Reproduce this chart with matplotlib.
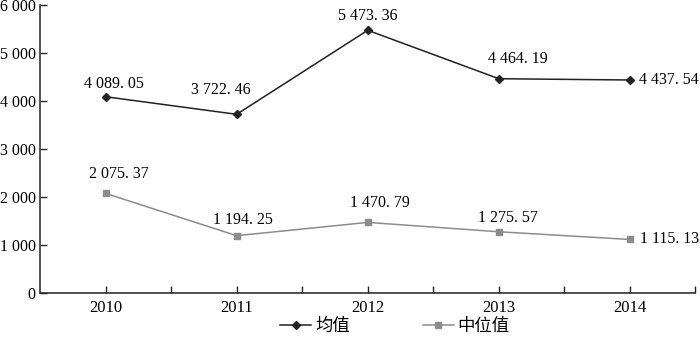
import matplotlib
matplotlib.use('Agg')
import matplotlib.pyplot as plt
from matplotlib.ticker import FuncFormatter

plt.rcParams['font.family'] = ['Liberation Serif', 'Noto Sans CJK SC']

years = ['2010', '2011', '2012', '2013', '2014']
mean_vals = [4089.05, 3722.46, 5473.36, 4464.19, 4437.54]
median_vals = [2075.37, 1194.25, 1470.79, 1275.57, 1115.13]
series_names = ['均值', '中位值']

# label placement (pixel offsets from each point, as in the source figure)
mean_offsets = [(8, 9), (-16, 20), (0, 10), (19, 16), (9, 0)]
median_offsets = [(13, 15), (6, 12), (12, 15), (9, 10), (10, 0)]


def fmt_num(v):
    whole, dec = f'{v:.2f}'.split('.')
    whole = f'{int(whole):,}'.replace(',', ' ')
    return f'{whole}. {dec}'


def fmt_tick(v, pos):
    return f'{int(v):,}'.replace(',', ' ')


fig = plt.figure(figsize=(7, 3.4), dpi=100)
ax = fig.add_axes([40 / 700, 47 / 340, 655.5 / 700, 288 / 340])

x = list(range(len(years)))
ax.plot(x, mean_vals, color='#222222', lw=1.1, marker='D', ms=4.5,
        mfc='#222222', mec='#222222', label=series_names[0])
ax.plot(x, median_vals, color='#8c8c8c', lw=1.1, marker='s', ms=5,
        mfc='#8c8c8c', mec='#8c8c8c', label=series_names[1])

lab_size = 11.5
last = len(years) - 1
for vals, offs in [(mean_vals, mean_offsets), (median_vals, median_offsets)]:
    for i, v in enumerate(vals):
        dx, dy = offs[i]
        if i == last:
            ax.annotate(fmt_num(v), (i, v), xytext=(dx, dy), textcoords='offset pixels',
                        ha='left', va='center', fontsize=lab_size)
        else:
            ax.annotate(fmt_num(v), (i, v), xytext=(dx, dy), textcoords='offset pixels',
                        ha='center', va='baseline', fontsize=lab_size)

ax.set_xlim(-0.5, len(years) - 0.5)
ax.set_ylim(0, 6000)
ax.set_yticks(range(0, 6001, 1000))
ax.yaxis.set_major_formatter(FuncFormatter(fmt_tick))

ax.set_xticks(x)
ax.set_xticklabels(years)
ax.set_xticks([i + 0.5 for i in x], minor=True)
ax.tick_params(axis='x', which='both', direction='in', length=5, width=1,
               color='#222222', labelsize=12, pad=5)
ax.tick_params(axis='y', direction='in', length=5, width=1,
               color='#222222', labelsize=11.5, pad=3)

for side in ['top', 'right']:
    ax.spines[side].set_visible(False)
for side in ['left', 'bottom']:
    ax.spines[side].set_color('#222222')
    ax.spines[side].set_linewidth(1.1)

fig.legend(loc='center', bbox_to_anchor=(0.564, 0.038), ncol=2, frameon=False,
           fontsize=12.5, handlelength=1.8, columnspacing=4.2, handletextpad=0.2)

fig.savefig('out.png', dpi=100)
